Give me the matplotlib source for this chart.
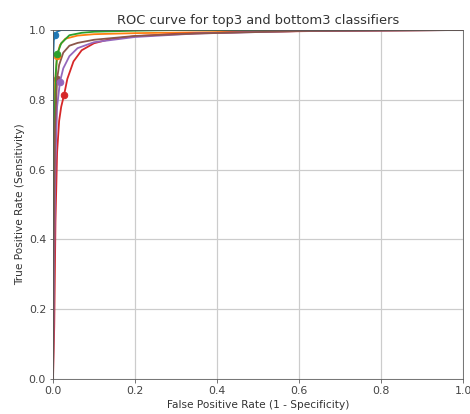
import matplotlib
matplotlib.use("Agg")
import matplotlib.pyplot as plt

# ROC curves (fpr, tpr)
blue_fpr = [0.0, 0.0, 0.002, 0.005, 0.01, 0.02, 1.0]
blue_tpr = [0.0, 0.90, 0.97, 0.986, 0.995, 1.0, 1.0]

orange_fpr = [0.0, 0.002, 0.005, 0.01, 0.017, 0.03, 0.06, 0.1, 0.2, 0.4, 0.6, 0.8, 1.0]
orange_tpr = [0.0, 0.60, 0.85, 0.925, 0.957, 0.975, 0.984, 0.988, 0.991, 0.994, 0.997, 0.999, 1.0]

green_fpr = [0.0, 0.003, 0.007, 0.01, 0.02, 0.04, 0.07, 0.1, 0.2, 0.3, 1.0]
green_tpr = [0.0, 0.70, 0.88, 0.93, 0.962, 0.985, 0.992, 0.995, 0.998, 1.0, 1.0]

red_fpr = [0.0, 0.003, 0.006, 0.01, 0.015, 0.02, 0.027, 0.035, 0.05, 0.07, 0.1, 0.14, 0.2, 0.3, 0.5, 0.7, 1.0]
red_tpr = [0.0, 0.15, 0.45, 0.65, 0.74, 0.78, 0.814, 0.86, 0.91, 0.942, 0.962, 0.974, 0.982, 0.989, 0.995, 0.998, 1.0]

purple_fpr = [0.0, 0.003, 0.006, 0.01, 0.017, 0.025, 0.04, 0.06, 0.1, 0.2, 0.35, 0.6, 1.0]
purple_tpr = [0.0, 0.35, 0.62, 0.78, 0.852, 0.89, 0.925, 0.948, 0.965, 0.98, 0.99, 0.997, 1.0]

brown_fpr = [0.0, 0.002, 0.005, 0.01, 0.015, 0.025, 0.04, 0.06, 0.1, 0.2, 0.35, 0.6, 1.0]
brown_tpr = [0.0, 0.40, 0.72, 0.86, 0.90, 0.935, 0.955, 0.963, 0.972, 0.983, 0.99, 0.997, 1.0]

# operating points (fpr, tpr)
point_fpr = [0.005, 0.01, 0.01, 0.027, 0.017, 0.01]
point_tpr = [0.986, 0.925, 0.93, 0.814, 0.852, 0.86]

curves = [(blue_fpr, blue_tpr), (orange_fpr, orange_tpr), (green_fpr, green_tpr),
          (red_fpr, red_tpr), (purple_fpr, purple_tpr), (brown_fpr, brown_tpr)]
colors = ["C0", "C1", "C2", "C3", "C4", "C5"]

fig = plt.figure(figsize=(470/72, 414/72), dpi=72)
ax = fig.add_axes([53/470, 1 - 379/414, 410/470, 349/414])
for (f, t), c in zip(curves, colors):
    ax.plot(f, t, color=c, lw=1.8)
for c, pf, pt in zip(colors, point_fpr, point_tpr):
    if c == "C5":
        continue
    ax.plot([pf], [pt], 'o', color=c, ms=6.5)
ax.plot([point_fpr[5]], [point_tpr[5]], 'o', color="C5", ms=6.5, zorder=1.9)

ax.set_xlim(0, 1)
ax.set_ylim(0, 1)
ax.grid(True, color="#cccccc", lw=1.2)
for s in ax.spines.values():
    s.set_color("#555555")
ax.set_title("ROC curve for top3 and bottom3 classifiers", fontsize=13, color="#333333")
ax.set_xlabel("False Positive Rate (1 - Specificity)", fontsize=10.5, color="#333333")
ax.set_ylabel("True Positive Rate (Sensitivity)", fontsize=10.5, color="#333333")
ax.tick_params(labelsize=11, labelcolor="#444444", color="#555555")
fig.savefig("out.png", dpi=72)
